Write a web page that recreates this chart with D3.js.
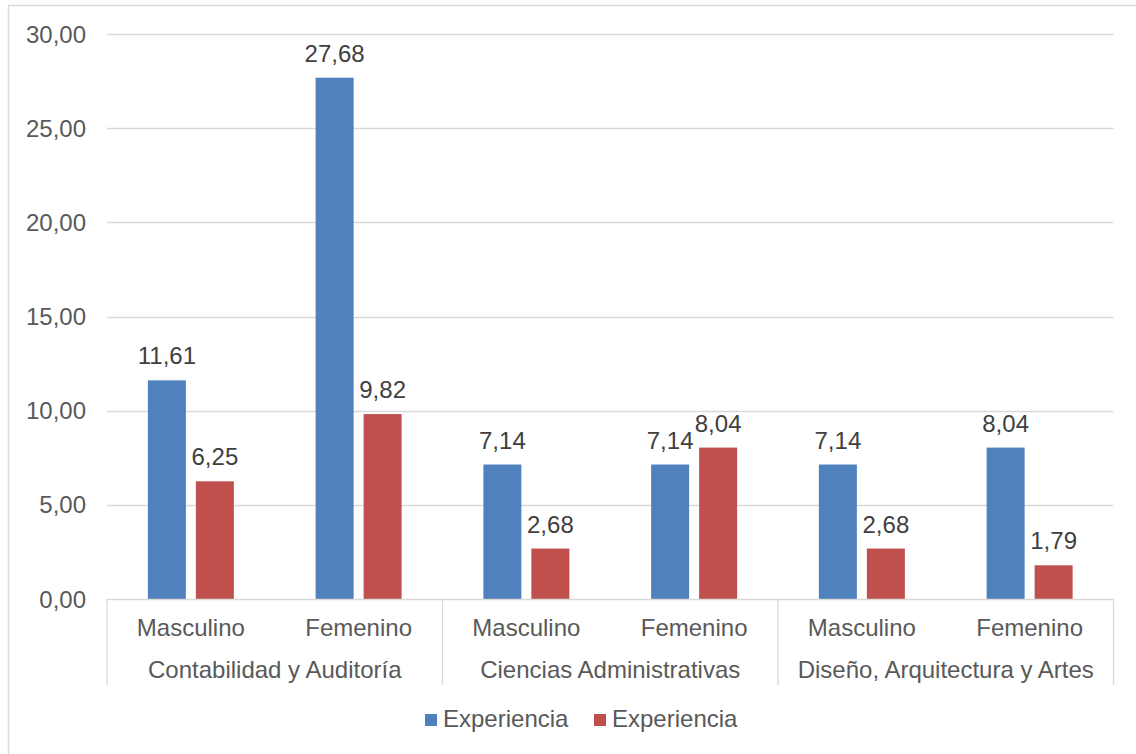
<!DOCTYPE html>
<html>
<head>
<meta charset="utf-8">
<script src="https://cdn.jsdelivr.net/npm/d3@7"></script>
<style>
  body { margin: 0; background: #fff; }
  svg text { font-family: "Liberation Sans", Arial, sans-serif; }
</style>
</head>
<body>
<div id="chart"></div>
<script>
// chart data
var groups = ["Contabilidad y Auditoría", "Ciencias Administrativas", "Diseño, Arquitectura y Artes"];
var genders = ["Masculino", "Femenino"];
var seriesNames = ["Experiencia", "Experiencia"];
var blueValues = [11.61, 27.68, 7.14, 7.14, 7.14, 8.04];
var redValues = [6.25, 9.82, 2.68, 8.04, 2.68, 1.79];
var yTicks = [0, 5, 10, 15, 20, 25, 30];

var colors = ["#4f81bd", "#c0504d"];
var W = 1136, H = 754;
var plot = { left: 107, right: 1113.5, top: 34, bottom: 599 };
var fs = "24px";

var locale = d3.formatLocale({ decimal: ",", thousands: ".", grouping: [3], currency: ["", ""] });
var fmt = locale.format(".2f");

var svg = d3.select("#chart")
    .append("svg")
    .attr("width", W)
    .attr("height", H);

// chart border (only top and left visible)
svg.append("path")
    .attr("d", "M8.5,754 L8.5,5.5 L1136,5.5")
    .attr("fill", "none")
    .attr("stroke", "#d9d9d9")
    .attr("stroke-width", 1.5);

// build rows
var rows = [];
groups.forEach(function (g, gi) {
    genders.forEach(function (s, si) {
        var i = gi * 2 + si;
        rows.push({ key: g + "|" + s, group: g, gender: s, values: [blueValues[i], redValues[i]] });
    });
});

var y = d3.scaleLinear()
    .domain([0, 30])
    .range([plot.bottom, plot.top]);

var xGroup = d3.scaleBand()
    .domain(groups)
    .range([plot.left, plot.right]);

var xSub = d3.scaleBand()
    .domain(rows.map(function (d) { return d.key; }))
    .range([plot.left, plot.right]);

var pi = 10 / 48;
var po = (xSub.bandwidth() / 48 - 2 + pi) / 2;
var xSeries = d3.scaleBand()
    .domain([0, 1])
    .range([0, xSub.bandwidth()])
    .paddingInner(pi)
    .paddingOuter(po);

// gridlines
svg.append("g")
    .selectAll("line")
    .data(yTicks.filter(function (t) { return t > 0; }))
    .join("line")
    .attr("x1", plot.left)
    .attr("x2", plot.right)
    .attr("y1", function (d) { return Math.round(y(d)) + 0.5; })
    .attr("y2", function (d) { return Math.round(y(d)) + 0.5; })
    .attr("stroke", "#d9d9d9")
    .attr("stroke-width", 1.3);

// y tick labels
svg.append("g")
    .selectAll("text")
    .data(yTicks)
    .join("text")
    .attr("x", 86)
    .attr("y", function (d) { return y(d) + 8.6; })
    .attr("text-anchor", "end")
    .attr("font-size", fs)
    .attr("fill", "#595959")
    .text(function (d) { return fmt(d); });

// bars
var rowG = svg.append("g")
    .selectAll("g")
    .data(rows)
    .join("g")
    .attr("transform", function (d) { return "translate(" + xSub(d.key) + ",0)"; });

rowG.selectAll("rect")
    .data(function (d) { return d.values; })
    .join("rect")
    .attr("x", function (d, i) { return xSeries(i); })
    .attr("y", function (d) { return y(d); })
    .attr("width", xSeries.bandwidth())
    .attr("height", function (d) { return y(0) - y(d); })
    .attr("fill", function (d, i) { return colors[i]; });

rowG.selectAll("text")
    .data(function (d) { return d.values; })
    .join("text")
    .attr("x", function (d, i) { return xSeries(i) + xSeries.bandwidth() / 2; })
    .attr("y", function (d) { return y(d) - 16; })
    .attr("text-anchor", "middle")
    .attr("font-size", fs)
    .attr("fill", "#404040")
    .text(function (d) { return fmt(d); });

// category axis
var axisG = svg.append("g");
axisG.append("line")
    .attr("x1", plot.left)
    .attr("x2", plot.right)
    .attr("y1", plot.bottom + 0.5)
    .attr("y2", plot.bottom + 0.5)
    .attr("stroke", "#d9d9d9")
    .attr("stroke-width", 1.3);

var seps = groups.map(function (g) { return xGroup(g); }).concat([plot.right]);
axisG.selectAll("line.sep")
    .data(seps)
    .join("line")
    .attr("class", "sep")
    .attr("x1", function (d) { return d; })
    .attr("x2", function (d) { return d; })
    .attr("y1", plot.bottom)
    .attr("y2", 685)
    .attr("stroke", "#d9d9d9")
    .attr("stroke-width", 1.3);

axisG.selectAll("text.sub")
    .data(rows)
    .join("text")
    .attr("class", "sub")
    .attr("x", function (d) { return xSub(d.key) + xSub.bandwidth() / 2; })
    .attr("y", 636)
    .attr("text-anchor", "middle")
    .attr("font-size", fs)
    .attr("fill", "#595959")
    .text(function (d) { return d.gender; });

axisG.selectAll("text.grp")
    .data(groups)
    .join("text")
    .attr("class", "grp")
    .attr("x", function (d) { return xGroup(d) + xGroup.bandwidth() / 2; })
    .attr("y", 678)
    .attr("text-anchor", "middle")
    .attr("font-size", fs)
    .attr("fill", "#595959")
    .text(function (d) { return d; });

// legend
var legendX = [425, 594];
var legend = svg.append("g")
    .selectAll("g")
    .data(seriesNames)
    .join("g")
    .attr("transform", function (d, i) { return "translate(" + legendX[i] + ",714)"; });

legend.append("rect")
    .attr("width", 12)
    .attr("height", 12)
    .attr("fill", function (d, i) { return colors[i]; });

legend.append("text")
    .attr("x", 18)
    .attr("y", 12.5)
    .attr("font-size", fs)
    .attr("fill", "#595959")
    .text(function (d) { return d; });
</script>
</body>
</html>
